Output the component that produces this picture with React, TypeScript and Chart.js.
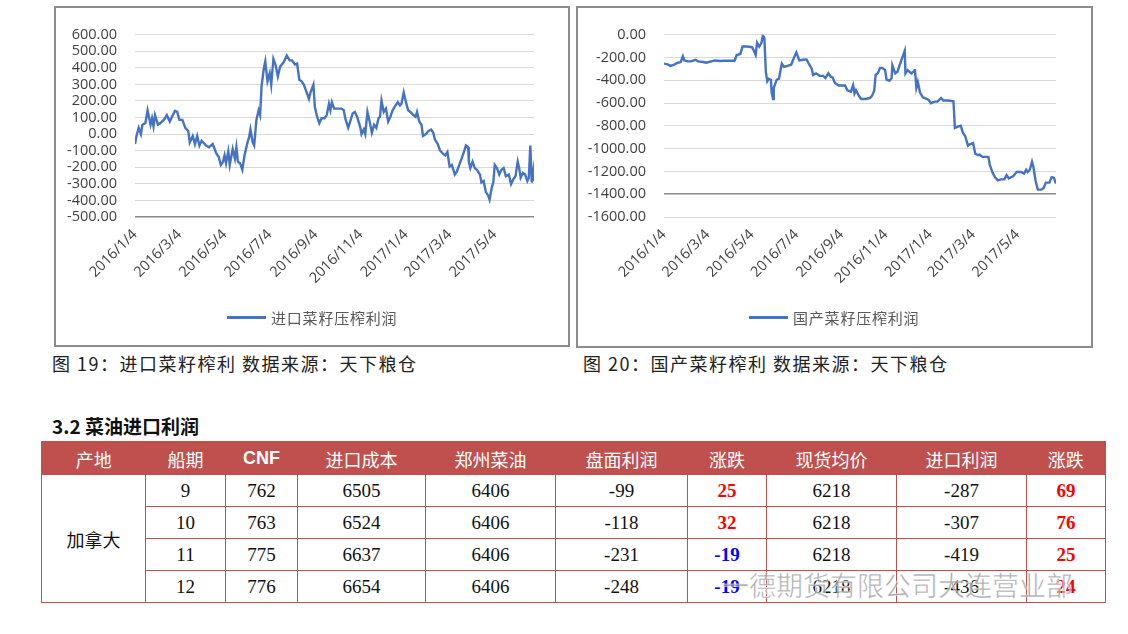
import React, { useEffect, useRef } from "react";
import { Chart, registerables } from "chart.js";

Chart.register(...registerables);

// ---------- Chart data (x = days since 2016/1/4) ----------
const tickDays = [0, 60, 121, 182, 244, 305, 366, 425, 486];
const tickLabels = ["2016/1/4", "2016/3/4", "2016/5/4", "2016/7/4", "2016/9/4", "2016/11/4", "2017/1/4", "2017/3/4", "2017/5/4"];
const lastDay = 539;

const days1 = [0,2,5,8,10,14,17,21,23,25,27,31,34,39,43,47,50,54,57,60,64,68,72,74,78,81,84,87,90,96,100,105,110,113,116,119,121,123,126,128,132,135,137,139,142,145,148,152,154,156,159,161,164,167,169,171,174,176,179,182,184,187,190,193,196,201,205,209,212,216,219,222,225,228,232,235,237,241,243,246,249,252,256,259,262,264,266,269,274,279,282,284,288,290,294,297,300,304,306,309,311,314,317,320,323,326,329,331,333,336,339,342,345,348,352,355,358,360,363,366,369,372,376,379,381,384,387,389,393,396,400,403,405,409,412,416,419,422,425,428,432,435,438,442,445,447,450,451,453,456,459,462,466,468,471,474,477,479,482,484,486,489,492,495,498,501,505,508,511,514,517,519,521,524,527,530,532,534,536,538,539];
const importProfit = [-60,-11,38,0,57,66,144,57,96,47,115,57,66,86,115,76,105,140,134,86,86,38,18,-50,-11,-60,-11,-69,-40,-69,-79,-60,-118,-137,-186,-166,-128,-176,-104,-186,-89,-147,-79,-166,-176,-215,-128,-50,-21,28,-50,-69,86,144,115,290,396,439,319,367,299,454,416,348,406,435,474,445,445,420,426,328,319,299,251,212,251,299,164,105,66,96,96,115,183,144,193,154,154,154,144,96,38,66,125,134,105,47,0,28,0,134,76,8,57,38,96,105,202,134,154,76,105,144,173,193,173,183,251,193,144,134,115,105,134,76,57,-11,0,18,28,8,-31,-60,-98,-118,-128,-108,-195,-186,-244,-224,-186,-137,-98,-69,-79,-166,-205,-166,-205,-215,-244,-292,-283,-350,-370,-395,-321,-292,-186,-205,-244,-215,-205,-254,-244,-302,-273,-254,-166,-205,-263,-234,-244,-283,-263,-69,-292,-224,-283];

const days2 = [0,5,9,14,19,23,26,28,33,37,43,47,54,58,65,70,77,84,91,97,100,105,108,114,121,123,126,128,131,134,136,138,140,142,144,147,148,150,151,155,158,162,165,170,175,179,182,186,191,196,199,203,205,209,214,219,222,226,229,232,235,240,244,249,252,257,260,262,264,268,271,277,283,286,289,291,294,297,300,304,306,310,313,314,318,321,324,327,331,332,335,340,344,345,347,349,352,356,361,364,367,372,376,381,384,391,398,400,405,408,411,414,418,421,425,428,432,434,438,446,448,452,455,459,463,468,471,474,480,485,491,495,498,500,503,506,508,511,514,519,522,525,530,533,536,539];
const domesticProfit = [-254,-260,-274,-262,-246,-240,-189,-226,-234,-234,-220,-234,-240,-246,-234,-226,-231,-229,-229,-229,-178,-169,-104,-104,-110,-133,-178,-71,-104,-71,-6,-28,-325,-409,-387,-395,-508,-564,-466,-395,-387,-254,-282,-274,-262,-198,-155,-226,-220,-217,-254,-296,-353,-339,-361,-361,-381,-339,-367,-376,-423,-446,-446,-446,-488,-500,-443,-516,-488,-536,-564,-564,-556,-536,-494,-353,-339,-291,-291,-310,-395,-404,-381,-268,-339,-325,-268,-212,-141,-339,-310,-339,-319,-302,-466,-415,-508,-550,-564,-573,-601,-587,-587,-556,-578,-578,-584,-818,-804,-799,-860,-889,-974,-960,-951,-1044,-1058,-1053,-1072,-1072,-1143,-1213,-1250,-1278,-1270,-1270,-1233,-1261,-1242,-1205,-1205,-1219,-1185,-1205,-1185,-1115,-1163,-1284,-1360,-1360,-1346,-1298,-1298,-1250,-1256,-1307];

const series1Name = "进口菜籽压榨利润";
const series2Name = "国产菜籽压榨利润";
const caption1 = "图 19：进口菜籽榨利 数据来源：天下粮仓";
const caption2 = "图 20：国产菜籽榨利 数据来源：天下粮仓";
const sectionTitle = "3.2 菜油进口利润";

// ---------- Table data ----------
const tableHeaders = ["产地", "船期", "CNF", "进口成本", "郑州菜油", "盘面利润", "涨跌", "现货均价", "进口利润", "涨跌"];
const origin = "加拿大";
const shipMonths = [9, 10, 11, 12];
const cnfPrices = [762, 763, 775, 776];
const importCosts = [6505, 6524, 6637, 6654];
const zhengzhouOil = [6406, 6406, 6406, 6406];
const futuresProfit = [-99, -118, -231, -248];
const futuresChange = [25, 32, -19, -19];
const spotAvg = [6218, 6218, 6218, 6218];
const importProfitTbl = [-287, -307, -419, -436];
const importChange = [69, 76, 25, 24];
const colWidths = [104, 80, 72, 128, 130, 132, 79, 130, 130, 79];

const LINE_COLOR = "#4472C4";
const LABEL_FONT = "'Open Sans', 'Liberation Sans', sans-serif";

type ChartCfg = {
  days: number[];
  values: number[];
  yMin: number;
  yMax: number;
  yStep: number;
  darkVal: number;
  yWidth: number;
  rightPad: number;
  xHeight: number;
};

function LineChart({ cfg, style }: { cfg: ChartCfg; style: React.CSSProperties }) {
  const ref = useRef<HTMLCanvasElement | null>(null);
  useEffect(() => {
    if (!ref.current) return;
    const chart = new Chart(ref.current, {
      type: "line",
      data: {
        datasets: [
          {
            data: cfg.days.map((d, i) => ({ x: d, y: cfg.values[i] })),
            borderColor: LINE_COLOR,
            borderWidth: 2.4,
            pointRadius: 0,
            tension: 0,
            fill: false,
          },
        ],
      },
      options: {
        animation: false,
        responsive: false,
        maintainAspectRatio: false,
        layout: { padding: { left: 0, right: cfg.rightPad, top: 20, bottom: 0 } },
        plugins: { legend: { display: false }, tooltip: { enabled: false } },
        scales: {
          x: {
            type: "linear",
            min: 0,
            max: lastDay,
            afterBuildTicks: (scale: any) => {
              scale.ticks = tickDays.map((v) => ({ value: v }));
            },
            afterFit: (scale: any) => {
              scale.height = cfg.xHeight;
            },
            grid: { display: false, drawTicks: false },
            border: { display: false },
            ticks: {
              autoSkip: false,
              maxRotation: 45,
              minRotation: 45,
              padding: 9,
              color: "#404040",
              font: { family: LABEL_FONT, size: 14.5 },
              callback: (_v: any, i: number) => tickLabels[i],
            },
          },
          y: {
            min: cfg.yMin,
            max: cfg.yMax,
            afterFit: (scale: any) => {
              scale.width = cfg.yWidth;
            },
            grid: {
              drawTicks: false,
              color: (ctx: any) => (ctx.tick && ctx.tick.value === cfg.darkVal ? "#8a8a8a" : "#d9d9d9"),
              lineWidth: (ctx: any) => (ctx.tick && ctx.tick.value === cfg.darkVal ? 1.6 : 1),
            },
            border: { display: false },
            ticks: {
              autoSkip: false,
              stepSize: cfg.yStep,
              padding: 18,
              color: "#404040",
              font: { family: LABEL_FONT, size: 14.5 },
              callback: (v: any) => Number(v).toFixed(2),
            },
          },
        },
      },
    });
    return () => chart.destroy();
  }, [cfg]);
  return <canvas ref={ref} width={style.width as number} height={style.height as number} style={{ position: "absolute", ...style }} />;
}

const cfg1: ChartCfg = { days: days1, values: importProfit, yMin: -500, yMax: 600, yStep: 100, darkVal: -500, yWidth: 79, rightPad: 33, xHeight: 127 };
const cfg2: ChartCfg = { days: days2, values: domesticProfit, yMin: -1600, yMax: 0, yStep: 200, darkVal: -1400, yWidth: 86, rightPad: 34, xHeight: 128 };

function Legend({ x, name }: { x: number; name: string }) {
  return (
    <div style={{ position: "absolute", left: x, top: 305, height: 24, display: "flex", alignItems: "center" }}>
      <div style={{ width: 39, height: 3, background: LINE_COLOR, marginRight: 5 }} />
      <span style={{ fontFamily: "'Noto Sans CJK SC', sans-serif", fontSize: 15, letterSpacing: 0.8, color: "#595959" }}>{name}</span>
    </div>
  );
}

function chgCell(v: number) {
  const color = v >= 0 ? "#FF0000" : "#0000FF";
  return <span style={{ color, fontWeight: "bold" }}>{v}</span>;
}

export default function App() {
  const frame: React.CSSProperties = { position: "absolute", border: "2px solid #8c8c8c", boxSizing: "border-box", background: "#fff" };
  const capStyle: React.CSSProperties = {
    position: "absolute",
    top: 351,
    fontFamily: "'Noto Sans CJK SC', serif",
    fontSize: 18,
    letterSpacing: 1.5,
    color: "#222",
    whiteSpace: "pre",
    lineHeight: "24px",
  };
  const cellBorder = "1px solid #C0504D";
  const td: React.CSSProperties = {
    borderLeft: cellBorder,
    borderRight: cellBorder,
    borderBottom: cellBorder,
    textAlign: "center",
    padding: 0,
    height: 31,
    fontFamily: "'Liberation Serif', 'Noto Sans CJK SC', serif",
    fontSize: 19,
    color: "#111",
  };
  const th: React.CSSProperties = {
    background: "#C0504D",
    color: "#fff",
    fontFamily: "'Noto Sans CJK SC', sans-serif",
    fontWeight: "normal",
    fontSize: 18,
    height: 33,
    padding: 0,
    textAlign: "center",
  };
  return (
    <div style={{ position: "absolute", left: 0, top: 0, width: 1128, height: 634, background: "#fff", overflow: "hidden" }}>
      <div style={{ ...frame, left: 54, top: 6, width: 516, height: 341 }} />
      <div style={{ ...frame, left: 576, top: 6, width: 517, height: 342 }} />
      <LineChart cfg={cfg1} style={{ left: 56, top: 8, width: 511, height: 336 }} />
      <LineChart cfg={cfg2} style={{ left: 578, top: 8, width: 512, height: 337 }} />
      <Legend x={227} name={series1Name} />
      <Legend x={749} name={series2Name} />
      <div style={{ ...capStyle, left: 52 }}>{caption1}</div>
      <div style={{ ...capStyle, left: 583 }}>{caption2}</div>
      <div
        style={{
          position: "absolute",
          left: 52,
          top: 413,
          fontFamily: "'Noto Sans CJK SC', sans-serif",
          fontWeight: "bold",
          fontSize: 19,
          color: "#111",
          lineHeight: "26px",
        }}
      >
        {sectionTitle}
      </div>
      <table
        style={{
          position: "absolute",
          left: 41,
          top: 441,
          width: 1064,
          borderCollapse: "collapse",
          tableLayout: "fixed",
          border: cellBorder,
        }}
      >
        <colgroup>
          {colWidths.map((w, i) => (
            <col key={i} style={{ width: w }} />
          ))}
        </colgroup>
        <thead>
          <tr>
            {tableHeaders.map((h, i) => (
              <th key={i} style={{ ...th, fontFamily: h === "CNF" ? "'Liberation Sans', sans-serif" : th.fontFamily, fontWeight: h === "CNF" ? "bold" : "normal" }}>
                {h}
              </th>
            ))}
          </tr>
        </thead>
        <tbody>
          {shipMonths.map((m, r) => (
            <tr key={r}>
              {r === 0 && (
                <td rowSpan={4} style={{ ...td, fontFamily: "'Noto Sans CJK SC', sans-serif", fontSize: 18 }}>
                  {origin}
                </td>
              )}
              <td style={td}>{m}</td>
              <td style={td}>{cnfPrices[r]}</td>
              <td style={td}>{importCosts[r]}</td>
              <td style={td}>{zhengzhouOil[r]}</td>
              <td style={td}>{futuresProfit[r]}</td>
              <td style={td}>{chgCell(futuresChange[r])}</td>
              <td style={td}>{spotAvg[r]}</td>
              <td style={td}>{importProfitTbl[r]}</td>
              <td style={td}>{chgCell(importChange[r])}</td>
            </tr>
          ))}
        </tbody>
      </table>
      <div
        style={{
          position: "absolute",
          left: 722,
          top: 568,
          fontFamily: "'Noto Sans CJK SC', sans-serif",
          fontSize: 27,
          color: "rgba(150,150,150,0.75)",
          whiteSpace: "pre",
          lineHeight: "34px",
          WebkitTextStroke: "0.6px rgba(255,255,255,0.8)",
        }}
      >
        一德期货有限公司大连营业部
      </div>
    </div>
  );
}
